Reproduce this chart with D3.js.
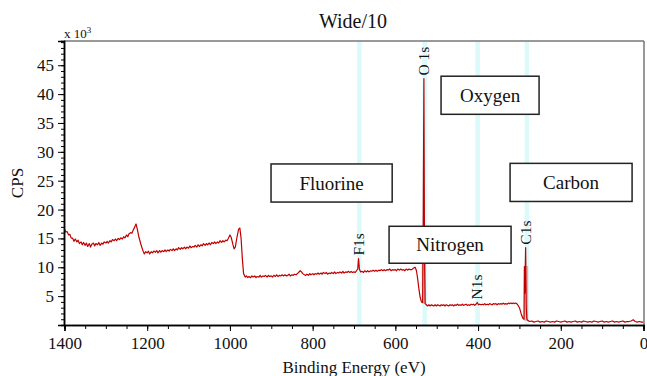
<!DOCTYPE html>
<html>
<head>
<meta charset="utf-8">
<script src="https://cdn.jsdelivr.net/npm/d3@7"></script>
<style>
  body { margin: 0; background: #fff; }
  text { font-family: "Liberation Serif", "Times New Roman", serif; fill: #111; }
</style>
</head>
<body>
<div class="chart"></div>
<script>
// spektrum: [binding energy (eV), CPS x 10^3]
var spectrum = [
  [1400,16.6],[1397,16.1],[1394,16.2],[1390,15.6],[1387,15.7],[1384,15.1],[1380,15.0],[1377,14.5],
  [1374,14.9],[1370,14.4],[1367,14.7],[1364,14.1],[1360,14.4],[1357,13.9],[1354,14.3],[1350,13.8],
  [1347,14.2],[1344,13.6],[1340,14.1],[1337,13.5],[1334,14.0],[1330,14.2],[1327,13.7],[1324,14.1],
  [1320,13.9],[1317,14.3],[1314,13.8],[1310,14.2],[1307,14.0],[1304,14.4],[1300,14.2],[1297,14.5],
  [1294,14.2],[1290,14.6],[1287,14.4],[1284,14.8],[1280,14.6],[1277,14.9],[1274,14.6],[1270,15.0],
  [1267,14.8],[1264,15.1],[1260,14.9],[1257,15.3],[1254,15.1],[1250,15.6],[1247,15.3],[1244,15.8],
  [1240,16.0],[1237,15.9],[1234,16.4],[1230,17.0],[1227,17.5],[1224,16.6],[1220,15.2],[1215,13.9],
  [1210,12.8],[1207,12.3],[1204,12.7],[1200,12.5],[1197,12.8],[1194,12.3],[1190,12.7],[1187,12.5],
  [1184,12.8],[1180,12.6],[1177,12.9],[1174,12.5],[1170,12.9],[1167,12.6],[1164,12.9],[1160,12.7],
  [1157,13.0],[1154,12.7],[1150,13.0],[1147,12.8],[1144,13.1],[1140,12.9],[1137,13.2],[1134,12.9],
  [1130,13.2],[1127,13.0],[1124,13.4],[1120,13.1],[1117,13.4],[1114,13.2],[1110,13.5],[1107,13.2],
  [1104,13.5],[1100,13.3],[1097,13.7],[1094,13.4],[1090,13.6],[1087,13.5],[1084,13.8],[1080,13.5],
  [1077,13.9],[1074,13.6],[1070,13.9],[1067,13.7],[1064,14.1],[1060,13.8],[1057,14.1],[1054,13.9],
  [1050,14.2],[1047,13.9],[1044,14.3],[1040,14.1],[1037,14.4],[1034,14.1],[1030,14.4],[1027,14.2],
  [1024,14.6],[1020,14.3],[1017,14.6],[1014,14.4],[1010,14.7],[1007,14.6],[1004,15.0],[1000,15.6],
  [997,15.2],[993,14.0],[990,13.2],[987,13.5],[983,15.2],[979,16.6],[976,16.8],[973,15.0],
  [970,11.5],[967,8.9],[963,8.3],[960,8.5],[957,8.2],[954,8.4],[950,8.2],[947,8.5],
  [944,8.3],[940,8.5],[937,8.2],[934,8.4],[930,8.3],[927,8.6],[924,8.3],[920,8.5],
  [917,8.4],[914,8.6],[910,8.3],[907,8.6],[904,8.4],[900,8.5],[897,8.3],[894,8.6],
  [890,8.4],[887,8.7],[884,8.4],[880,8.6],[877,8.5],[874,8.7],[870,8.5],[867,8.7],
  [864,8.5],[860,8.6],[857,8.8],[854,8.5],[850,8.7],[847,8.6],[844,8.8],[840,8.7],
  [837,8.9],[834,9.1],[830,9.4],[827,9.2],[824,8.9],[820,8.7],[817,8.6],[814,8.8],
  [810,8.6],[807,8.9],[804,8.7],[800,8.9],[797,8.7],[794,8.9],[790,8.8],[787,9.0],
  [784,8.8],[780,9.0],[777,8.8],[774,9.1],[770,8.9],[767,9.1],[764,8.8],[760,9.0],
  [757,8.9],[754,9.1],[750,8.9],[747,9.2],[744,8.9],[740,9.1],[737,9.0],[734,9.2],
  [730,9.0],[727,9.3],[724,9.0],[720,9.2],[717,9.1],[714,9.3],[710,9.1],[707,9.3],
  [704,9.1],[700,9.2],[697,9.1],[694,9.4],[691,9.7],[689,11.5],[687,9.7],[684,9.2],
  [680,9.3],[677,9.1],[674,9.4],[670,9.2],[667,9.4],[664,9.2],[660,9.4],[657,9.3],
  [654,9.5],[650,9.3],[647,9.5],[644,9.3],[640,9.5],[637,9.4],[634,9.6],[630,9.4],
  [627,9.6],[624,9.4],[620,9.6],[617,9.5],[614,9.7],[610,9.4],[607,9.6],[604,9.5],
  [600,9.6],[597,9.4],[594,9.7],[590,9.5],[587,9.7],[584,9.5],[580,9.6],[577,9.4],
  [574,9.7],[570,9.5],[567,9.7],[564,9.6],[560,9.6],[557,9.8],[555,9.9],[552,10.0],
  [549,9.4],[546,8.0],[543,6.2],[540,4.8],[537,4.0],[534,3.9],
  [532.5,20.0],[531,42.7],[529.5,12.0],[528,3.7],[525,3.5],[522,3.3],[519,3.5],[516,3.3],
  [513,3.5],[510,3.4],[507,3.3],[504,3.5],[501,3.3],[498,3.5],[495,3.4],[492,3.3],
  [489,3.5],[486,3.4],[483,3.5],[480,3.3],[477,3.5],[474,3.4],[471,3.3],[468,3.5],
  [465,3.4],[462,3.5],[459,3.3],[456,3.5],[453,3.4],[450,3.6],[447,3.4],[444,3.5],
  [441,3.4],[438,3.6],[435,3.4],[432,3.5],[429,3.6],[426,3.4],[423,3.5],[420,3.4],
  [417,3.6],[414,3.5],[411,3.6],[408,3.4],[405,3.6],[402,3.9],[399,3.5],[396,3.6],
  [393,3.5],[390,3.6],[387,3.5],[384,3.7],[381,3.5],[378,3.6],[375,3.5],[372,3.7],
  [369,3.6],[366,3.5],[363,3.7],[360,3.6],[357,3.7],[354,3.5],[351,3.7],[348,3.6],
  [345,3.7],[342,3.6],[339,3.8],[336,3.6],[333,3.7],[330,3.6],[327,3.8],[324,3.7],
  [321,3.8],[318,3.7],[315,3.8],[312,3.7],[309,3.8],[305,3.6],[300,3.0],[296,2.0],
  [292,1.2],[289,1.0],[288,10.1],[287,5.5],
  [285,13.4],[283.5,3.0],[282,1.0],[280,0.8],[275,0.6],[270,0.7],[265,0.5],[260,0.6],
  [255,0.7],[250,0.5],[245,0.6],[240,0.5],[235,0.7],[230,0.6],[225,0.5],[220,0.6],
  [215,0.5],[210,0.7],[205,0.6],[200,0.5],[195,0.6],[190,0.7],[185,0.5],[180,0.6],
  [175,0.5],[170,0.6],[165,0.7],[160,0.5],[155,0.6],[150,0.5],[145,0.7],[140,0.6],
  [135,0.5],[130,0.6],[125,0.5],[120,0.7],[115,0.6],[110,0.5],[105,0.6],[100,0.7],
  [95,0.5],[90,0.6],[85,0.5],[80,0.6],[75,0.7],[70,0.5],[65,0.6],[60,0.5],
  [55,0.6],[50,0.7],[45,0.5],[40,0.6],[35,0.6],[30,0.7],[25,0.9],[20,0.6],
  [15,0.5],[10,0.6],[5,0.5],[0,0.5]
];

// label puncak
var peakNames = ["O 1s", "F1s", "N1s", "C1s"];
var peakEnergy = [531, 689, 402, 285];
var peakHeight = [42.7, 11.5, 3.9, 13.4];

// pita posisi puncak (eV)
var bandEnergy = [687, 529, 401, 282];

// daerah arsiran dekat puncak O dan C
var regionStart = [535, 288];
var regionEnd = [528, 280];
var regionTop = [10.7, 10.1];
var regionBottom = [3.8, 0.85];

// nama unsur di dalam kotak
var elementNames = ["Fluorine", "Oxygen", "Nitrogen", "Carbon"];

var xTickValues = [1400, 1200, 1000, 800, 600, 400, 200, 0];
var yTickValues = [5, 10, 15, 20, 25, 30, 35, 40, 45];

// tata letak kotak (dalam satuan data: eV kiri, eV kanan, CPS atas, CPS bawah)
var boxLayout = [
  [900.6, 607.7, 27.9, 21.3],
  [489.5, 252.5, 43.1, 36.5],
  [615.2, 320.2, 17.1, 10.7],
  [322.6, 27.6, 28.0, 21.4]
];

var width = 647, height = 376;
var margin = { top: 41, right: 3, bottom: 51, left: 64 };
var serif = '"Liberation Serif", "Times New Roman", serif';

var svg = d3.select(".chart").append("svg")
  .attr("width", width)
  .attr("height", height);

var x = d3.scaleLinear().domain([1400, 0]).range([margin.left + 0.5, width - margin.right - 0.5]);
var y = d3.scaleLinear().domain([0, 49.2]).range([height - margin.bottom, margin.top]);

var bandW = x(0) - x(11);

// pita cyan
svg.selectAll(".band")
  .data(bandEnergy)
  .enter().append("rect")
  .attr("class", "band")
  .attr("x", function(d) { return x(d) - bandW / 2; })
  .attr("y", margin.top)
  .attr("width", bandW)
  .attr("height", height - margin.bottom - margin.top)
  .style("fill", "#dcfafa");

// arsiran merah muda
svg.selectAll(".region")
  .data(regionStart)
  .enter().append("rect")
  .attr("class", "region")
  .attr("x", function(d) { return x(d); })
  .attr("y", function(d, i) { return y(regionTop[i]); })
  .attr("width", function(d, i) { return x(regionEnd[i]) - x(d); })
  .attr("height", function(d, i) { return y(regionBottom[i]) - y(regionTop[i]); })
  .style("fill", "#f0c4c4")
  .style("stroke", "#d99a9a")
  .style("stroke-width", 0.8);

// garis spektrum
var line = d3.line()
  .x(function(d) { return x(d[0]); })
  .y(function(d) { return y(d[1]); });

svg.append("path")
  .datum(spectrum)
  .attr("d", line)
  .style("fill", "none")
  .style("stroke", "#c00000")
  .style("stroke-width", 1.2)
  .style("stroke-linejoin", "round");

// bingkai atas dan kanan (abu-abu)
svg.append("line")
  .attr("x1", margin.left).attr("x2", width - margin.right)
  .attr("y1", margin.top).attr("y2", margin.top)
  .style("stroke", "#777").style("stroke-width", 1.5);
svg.append("line")
  .attr("x1", width - margin.right).attr("x2", width - margin.right)
  .attr("y1", margin.top).attr("y2", height - margin.bottom)
  .style("stroke", "#777").style("stroke-width", 1.5);

// sumbu x
var xMinor = d3.axisBottom(x).tickValues(d3.range(0, 1401, 50)).tickSize(4).tickFormat("");
var xAxis = d3.axisBottom(x).tickValues(xTickValues).tickSize(6).tickPadding(6).tickFormat(d3.format("d"));

svg.append("g")
  .attr("transform", "translate(0," + (height - margin.bottom) + ")")
  .call(xMinor);
var gx = svg.append("g")
  .attr("transform", "translate(0," + (height - margin.bottom) + ")")
  .call(xAxis);
gx.attr("font-family", serif).attr("font-size", 17);
gx.selectAll("text").style("font-family", serif).style("font-size", "17px");

// sumbu y
var yMinor = d3.axisLeft(y).tickValues(d3.range(1, 50, 1)).tickSize(3).tickFormat("");
var yAxis = d3.axisLeft(y).tickValues(yTickValues).tickSize(6).tickPadding(4).tickFormat(d3.format("d"));

svg.append("g")
  .attr("transform", "translate(" + margin.left + ",0)")
  .call(yMinor);
var gy = svg.append("g")
  .attr("transform", "translate(" + margin.left + ",0)")
  .call(yAxis);
gy.attr("font-family", serif).attr("font-size", 17);
gy.selectAll("text").style("font-family", serif).style("font-size", "17px");

svg.selectAll(".domain").style("stroke", "#000").style("stroke-width", 1.5);
svg.selectAll(".tick line").style("stroke", "#000");

// judul
svg.append("text")
  .attr("x", 353)
  .attr("y", 28)
  .attr("text-anchor", "middle")
  .style("font-size", "20px")
  .text("Wide/10");

// x 10^3
var mult = svg.append("text")
  .attr("x", margin.left)
  .attr("y", 38)
  .style("font-size", "13px");
mult.append("tspan").text("x 10");
mult.append("tspan").attr("dy", -5).style("font-size", "9px").text("3");

// label sumbu
svg.append("text")
  .attr("x", (margin.left + width - margin.right) / 2)
  .attr("y", 373)
  .attr("text-anchor", "middle")
  .style("font-size", "17px")
  .text("Binding Energy (eV)");

svg.append("text")
  .attr("transform", "translate(23," + ((margin.top + height - margin.bottom) / 2) + ") rotate(-90)")
  .attr("text-anchor", "middle")
  .style("font-size", "17px")
  .text("CPS");

// label puncak (vertikal)
svg.selectAll(".peak-label")
  .data(peakNames)
  .enter().append("text")
  .attr("class", "peak-label")
  .attr("transform", function(d, i) {
    return "translate(" + x(peakEnergy[i]) + "," + (y(peakHeight[i]) - 3) + ") rotate(-90)";
  })
  .attr("dy", "0.33em")
  .style("font-size", "15.5px")
  .text(function(d) { return d; });

// kotak nama unsur
var boxes = svg.selectAll(".box")
  .data(elementNames)
  .enter().append("g")
  .attr("class", "box");

boxes.append("rect")
  .attr("x", function(d, i) { return x(boxLayout[i][0]); })
  .attr("y", function(d, i) { return y(boxLayout[i][2]); })
  .attr("width", function(d, i) { return x(boxLayout[i][1]) - x(boxLayout[i][0]); })
  .attr("height", function(d, i) { return y(boxLayout[i][3]) - y(boxLayout[i][2]); })
  .style("fill", "#fff")
  .style("stroke", "#222")
  .style("stroke-width", 1.5);

boxes.append("text")
  .attr("x", function(d, i) { return (x(boxLayout[i][0]) + x(boxLayout[i][1])) / 2; })
  .attr("y", function(d, i) { return (y(boxLayout[i][2]) + y(boxLayout[i][3])) / 2; })
  .attr("dy", "0.35em")
  .attr("text-anchor", "middle")
  .style("font-size", "19px")
  .text(function(d) { return d; });
</script>
</body>
</html>
